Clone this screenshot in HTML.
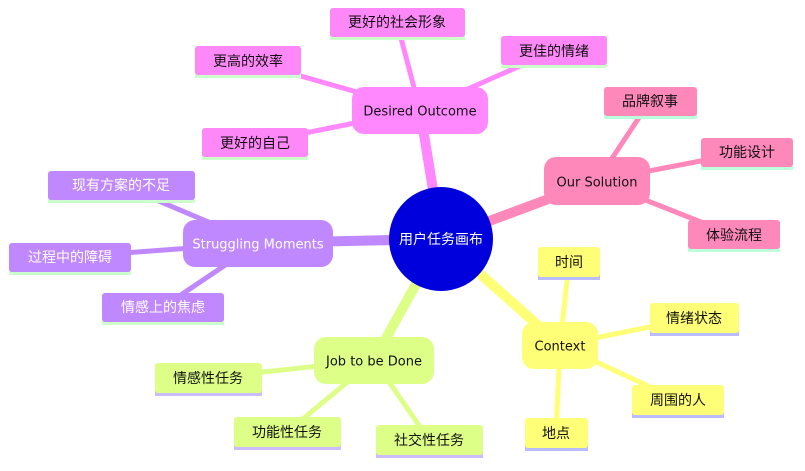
<!DOCTYPE html>
<html><head><meta charset="utf-8"><style>
html,body{margin:0;padding:0;background:#fff;}
svg{display:block}
text{font-family:"DejaVu Sans","Noto Sans CJK SC",sans-serif;font-size:14px;text-anchor:middle;dominant-baseline:central;fill:#111}
text.en{font-size:13px}
</style></head><body>
<svg width="805" height="471" viewBox="0 0 805 471">
<g stroke-linecap="round" fill="none">
<line x1="441" y1="239" x2="420" y2="110" stroke="#ff88ff" stroke-width="10"/>
<line x1="441" y1="239" x2="597" y2="181" stroke="#ff88bb" stroke-width="10"/>
<line x1="441" y1="239" x2="258" y2="243" stroke="#c088ff" stroke-width="10"/>
<line x1="441" y1="239" x2="374" y2="360" stroke="#ddff88" stroke-width="10"/>
<line x1="441" y1="239" x2="560" y2="345" stroke="#ffff77" stroke-width="10"/>
<g stroke="#ff88ff" stroke-width="5">
<line x1="420" y1="110" x2="397" y2="23"/><line x1="420" y1="110" x2="248" y2="61"/>
<line x1="420" y1="110" x2="554" y2="51"/><line x1="420" y1="110" x2="255" y2="143"/></g>
<g stroke="#ff88bb" stroke-width="5">
<line x1="597" y1="181" x2="650" y2="101"/><line x1="597" y1="181" x2="747" y2="152"/><line x1="597" y1="181" x2="734" y2="235"/></g>
<g stroke="#c088ff" stroke-width="5">
<line x1="258" y1="243" x2="121" y2="185"/><line x1="258" y1="243" x2="70" y2="257"/><line x1="258" y1="243" x2="163" y2="307"/></g>
<g stroke="#ddff88" stroke-width="5">
<line x1="374" y1="360" x2="208" y2="378"/><line x1="374" y1="360" x2="287" y2="432"/><line x1="374" y1="360" x2="429" y2="440"/></g>
<g stroke="#ffff77" stroke-width="5">
<line x1="560" y1="345" x2="569" y2="262"/><line x1="560" y1="345" x2="694" y2="318"/><line x1="560" y1="345" x2="678" y2="400"/><line x1="560" y1="345" x2="556" y2="433"/></g>
</g>
<circle cx="441" cy="239" r="52" fill="#0000dd"/>
<text x="441" y="240" style="fill:#fff">用户任务画布</text>
<rect x="352" y="87" width="136" height="47" rx="12" fill="#ff88ff"/><text class="en" x="420" y="112">Desired Outcome</text>
<rect x="544" y="157" width="106" height="48" rx="12" fill="#ff88bb"/><text class="en" x="597" y="183">Our Solution</text>
<rect x="183" y="220" width="150" height="47" rx="12" fill="#c088ff"/><text class="en" x="258" y="245" style="fill:#fff">Struggling Moments</text>
<rect x="314" y="337" width="120" height="47" rx="12" fill="#ddff88"/><text class="en" x="374" y="362">Job to be Done</text>
<rect x="522" y="322" width="76" height="47" rx="12" fill="#ffff77"/><text class="en" x="560" y="347">Context</text>
<g>
<rect x="330" y="10" width="135" height="30" fill="#ccffcc"/><rect x="330" y="8" width="135" height="29" rx="3" fill="#ff88f8"/><text x="397" y="23">更好的社会形象</text>
<rect x="195" y="48" width="106" height="30" fill="#ccffcc"/><rect x="195" y="46" width="106" height="29" rx="3" fill="#ff88f8"/><text x="248" y="62">更高的效率</text>
<rect x="501" y="38" width="106" height="30" fill="#ccffcc"/><rect x="501" y="36" width="106" height="29" rx="3" fill="#ff88f8"/><text x="554" y="52">更佳的情绪</text>
<rect x="202" y="130" width="106" height="30" fill="#ccffcc"/><rect x="202" y="128" width="106" height="29" rx="3" fill="#ff88f8"/><text x="255" y="144">更好的自己</text>

<rect x="604" y="89" width="93" height="30" fill="#bbffdd"/><rect x="604" y="87" width="93" height="29" rx="3" fill="#ff88bb"/><text x="650" y="102">品牌叙事</text>
<rect x="701" y="140" width="92" height="30" fill="#bbffdd"/><rect x="701" y="138" width="92" height="29" rx="3" fill="#ff88bb"/><text x="747" y="153">功能设计</text>
<rect x="688" y="222" width="92" height="30" fill="#bbffdd"/><rect x="688" y="220" width="92" height="29" rx="3" fill="#ff88bb"/><text x="734" y="236">体验流程</text>

<rect x="48" y="173" width="147" height="30" fill="#ccffcc"/><rect x="48" y="171" width="147" height="29" rx="3" fill="#c088ff"/><text x="121" y="186" style="fill:#fff">现有方案的不足</text>
<rect x="9" y="245" width="122" height="30" fill="#ccffcc"/><rect x="9" y="243" width="122" height="29" rx="3" fill="#c088ff"/><text x="70" y="258" style="fill:#fff">过程中的障碍</text>
<rect x="102" y="295" width="122" height="30" fill="#ccffcc"/><rect x="102" y="293" width="122" height="29" rx="3" fill="#c088ff"/><text x="163" y="308" style="fill:#fff">情感上的焦虑</text>

<rect x="155" y="365" width="107" height="31" fill="#ccbbff"/><rect x="155" y="363" width="107" height="30" rx="3" fill="#ddff88"/><text x="208" y="379">情感性任务</text>
<rect x="234" y="419" width="107" height="31" fill="#ccbbff"/><rect x="234" y="417" width="107" height="30" rx="3" fill="#ddff88"/><text x="287" y="433">功能性任务</text>
<rect x="376" y="427" width="107" height="31" fill="#ccbbff"/><rect x="376" y="425" width="107" height="30" rx="3" fill="#ddff88"/><text x="429" y="441">社交性任务</text>

<rect x="538" y="249" width="62" height="31" fill="#bbbbff"/><rect x="538" y="247" width="62" height="30" rx="3" fill="#ffff77"/><text x="569" y="263">时间</text>
<rect x="650" y="305" width="89" height="31" fill="#bbbbff"/><rect x="650" y="303" width="89" height="30" rx="3" fill="#ffff77"/><text x="694" y="319">情绪状态</text>
<rect x="632" y="387" width="92" height="31" fill="#bbbbff"/><rect x="632" y="385" width="92" height="30" rx="3" fill="#ffff77"/><text x="678" y="401">周围的人</text>
<rect x="525" y="420" width="63" height="31" fill="#bbbbff"/><rect x="525" y="418" width="63" height="30" rx="3" fill="#ffff77"/><text x="556" y="434">地点</text>
</g>
</svg>
</body></html>
